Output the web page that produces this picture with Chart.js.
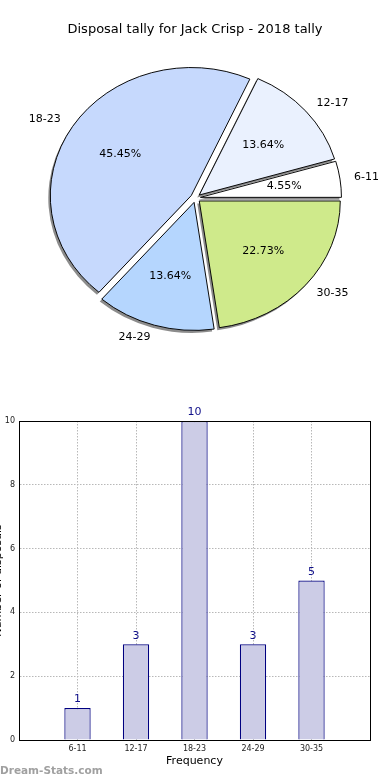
<!DOCTYPE html>
<html>
<head>
<meta charset="utf-8">
<script src="https://cdn.jsdelivr.net/npm/chart.js@4.4.1/dist/chart.umd.min.js"></script>
<style>
  html, body { margin: 0; padding: 0; background: #fff; }
  #wrap { width: 390px; height: 780px; position: relative; }
  .box { position: absolute; left: 0; width: 390px; }
  #pieBox { top: 0; height: 380px; }
  #barBox { top: 380px; height: 400px; }
</style>
</head>
<body>
<div id="wrap">
  <div class="box" id="pieBox"><canvas id="pieChart"></canvas></div>
  <div class="box" id="barBox"><canvas id="barChart"></canvas></div>
</div>
<script>
// chart data
const chartTitle = 'Disposal tally for Jack Crisp - 2018 tally';
const ageGroups = ['6-11', '12-17', '18-23', '24-29', '30-35'];
const disposals = [1, 3, 10, 3, 5];
const sliceColors = ['#ffffff', '#eaf1fe', '#c6d9fd', '#b5d6fe', '#cfea8b'];
const yTicks = [0, 2, 4, 6, 8, 10];
const xAxisTitle = 'Frequency';
const yAxisTitle = 'Number of disposals';
const watermark = 'Dream-Stats.com';

const FONT = '"DejaVu Sans", sans-serif';
const SQUASH = 0.908;   // the original pie sits on a non-square axes, so it is an ellipse
const EXPLODE = 5;      // px every wedge is pushed out

// matplotlib draws wedges counter-clockwise from 3 o'clock, Chart.js goes clockwise
const pieLabels = ageGroups.slice().reverse();
const pieValues = disposals.slice().reverse();
const pieColors = sliceColors.slice().reverse();

const centerOf = (chart) => {
    const a = chart.chartArea;
    return { cx: (a.left + a.right) / 2, cy: (a.top + a.bottom) / 2 };
};

const squash = (ctx, cx, cy) => {
    ctx.translate(cx, cy);
    ctx.scale(1, SQUASH);
    ctx.translate(-cx, -cy);
};

const piePlugin = {
    id: 'mplPie',
    beforeDatasetsDraw(chart) {
        const { ctx } = chart;
        const { cx, cy } = centerOf(chart);
        const arcs = chart.getDatasetMeta(0).data;
        // explode each wedge along its mid angle
        arcs.forEach(arc => {
            const mid = (arc.startAngle + arc.endAngle) / 2;
            arc.x = cx + Math.cos(mid) * EXPLODE;
            arc.y = cy + Math.sin(mid) * EXPLODE;
        });

        // grey shadows under all wedges
        ctx.save();
        ctx.translate(-2, 2.5);
        squash(ctx, cx, cy);
        ctx.fillStyle = 'rgba(0,0,0,0.45)';
        arcs.forEach(arc => {
            ctx.beginPath();
            ctx.moveTo(arc.x, arc.y);
            ctx.arc(arc.x, arc.y, arc.outerRadius, arc.startAngle, arc.endAngle);
            ctx.closePath();
            ctx.fill();
        });
        ctx.restore();

        ctx.save();
        squash(ctx, cx, cy);
    },
    afterDatasetsDraw(chart) {
        const { ctx } = chart;
        ctx.restore();
        const { cy } = centerOf(chart);
        const values = chart.data.datasets[0].data;
        const total = values.reduce((s, v) => s + v, 0);

        ctx.save();
        ctx.font = '11px ' + FONT;
        ctx.fillStyle = '#000';
        ctx.textBaseline = 'middle';
        chart.getDatasetMeta(0).data.forEach((arc, i) => {
            const mid = (arc.startAngle + arc.endAngle) / 2;
            const r = arc.outerRadius;
            const at = (k) => ({
                x: arc.x + Math.cos(mid) * r * k,
                y: cy + (arc.y + Math.sin(mid) * r * k - cy) * SQUASH
            });
            const p = at(0.6);
            ctx.textAlign = 'center';
            ctx.fillText((values[i] / total * 100).toFixed(2) + '%', p.x, p.y);
            const l = at(1.1);
            ctx.textAlign = Math.cos(mid) > 0 ? 'left' : 'right';
            ctx.fillText(chart.data.labels[i], l.x, l.y);
        });
        ctx.font = '13px ' + FONT;
        ctx.textAlign = 'center';
        ctx.fillText(chartTitle, chart.width / 2, 30);
        ctx.restore();
    }
};

new Chart(document.getElementById('pieChart'), {
    type: 'pie',
    data: {
        labels: pieLabels,
        datasets: [{
            data: pieValues,
            backgroundColor: pieColors,
            borderColor: '#000',
            borderWidth: 1,
            hoverOffset: 0,
            radius: 141,
            clip: false
        }]
    },
    options: {
        responsive: true,
        maintainAspectRatio: false,
        animation: false,
        rotation: 90,
        layout: { padding: { left: 1, right: 0, top: 16, bottom: 0 } },
        events: [],
        plugins: {
            legend: { display: false },
            tooltip: { enabled: false }
        }
    },
    plugins: [piePlugin]
});

const barPlugin = {
    id: 'mplBar',
    afterDraw(chart) {
        const { ctx, chartArea: a } = chart;
        ctx.save();
        // full box round the axes
        ctx.strokeStyle = '#000';
        ctx.lineWidth = 1;
        ctx.strokeRect(Math.round(a.left) + 0.5, Math.round(a.top) + 0.5,
            Math.round(a.right - a.left), Math.round(a.bottom - a.top));

        // value labels above the bars
        ctx.font = '11px ' + FONT;
        ctx.fillStyle = '#10108a';
        ctx.textAlign = 'center';
        ctx.textBaseline = 'bottom';
        chart.getDatasetMeta(0).data.forEach((bar, i) => {
            ctx.fillText(String(disposals[i]), bar.x, bar.y - 3);
        });

        // y title, mostly cut off at the left edge like the original
        ctx.save();
        ctx.translate(0.5, (a.top + a.bottom) / 2);
        ctx.rotate(-Math.PI / 2);
        ctx.fillStyle = '#000';
        ctx.textBaseline = 'alphabetic';
        ctx.fillText(yAxisTitle, 0, 0);
        ctx.restore();

        // watermark
        ctx.font = 'bold 10.5px ' + FONT;
        ctx.fillStyle = '#a0a0a0';
        ctx.textAlign = 'left';
        ctx.textBaseline = 'middle';
        ctx.fillText(watermark, 0, chart.height - 9);
        ctx.restore();
    }
};

new Chart(document.getElementById('barChart'), {
    type: 'bar',
    data: {
        datasets: [{
            data: disposals.map((v, i) => ({ x: i + 1, y: v })),
            backgroundColor: '#ccccE6',
            borderColor: '#000080',
            borderWidth: 1.2,
            barPercentage: 0.45,
            categoryPercentage: 1
        }]
    },
    options: {
        responsive: true,
        maintainAspectRatio: false,
        animation: false,
        events: [],
        layout: { padding: { left: 0, right: 20, top: 41, bottom: 0 } },
        plugins: {
            legend: { display: false },
            tooltip: { enabled: false }
        },
        scales: {
            x: {
                type: 'linear',
                min: 0,
                max: ageGroups.length + 1,
                offset: false,
                z: 1,
                afterFit: s => { s.height = 40; },
                afterBuildTicks: s => {
                    s.ticks = [0, ...ageGroups.map((_, i) => i + 1), ageGroups.length + 1]
                        .map(v => ({ value: v }));
                },
                ticks: {
                    autoSkip: false,
                    maxRotation: 0,
                    padding: 4,
                    color: '#222',
                    font: { family: FONT, size: 8 },
                    callback: v => ageGroups[v - 1] || ''
                },
                grid: { offset: false, color: '#b8b8b8', lineWidth: 1, drawTicks: false },
                border: { color: '#000', width: 1, dash: [1.5, 1.5] },
                title: {
                    display: true,
                    text: xAxisTitle,
                    color: '#000',
                    font: { family: FONT, size: 11 },
                    padding: { top: 0, bottom: 12 }
                }
            },
            y: {
                min: 0,
                max: 10,
                z: 1,
                afterFit: s => { s.width = 19; },
                afterBuildTicks: s => { s.ticks = yTicks.map(v => ({ value: v })); },
                ticks: {
                    padding: 4,
                    color: '#222',
                    font: { family: FONT, size: 8 }
                },
                grid: { color: '#b8b8b8', lineWidth: 1, drawTicks: false },
                border: { color: '#000', width: 1, dash: [1.5, 1.5] }
            }
        }
    },
    plugins: [barPlugin]
});
</script>
</body>
</html>
